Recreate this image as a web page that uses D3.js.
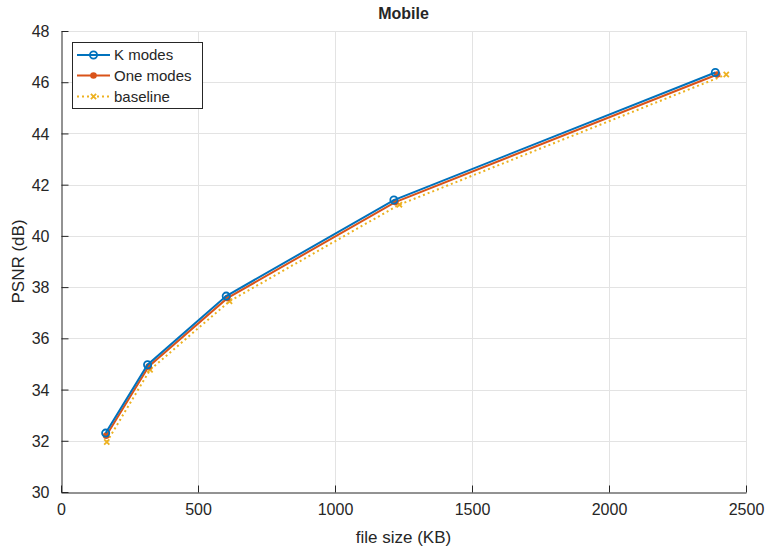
<!DOCTYPE html>
<html>
<head>
<meta charset="utf-8">
<script src="https://cdn.jsdelivr.net/npm/d3@7"></script>
<style>
  body { margin: 0; background: #fff; }
  text { font-family: "Liberation Sans", Arial, sans-serif; fill: #262626; }
</style>
</head>
<body>
<div id="chart"></div>
<script>
// data
const seriesNames = ["K modes", "One modes", "baseline"];
const kModesSize = [163, 316, 603, 1215, 2388];
const kModesPsnr = [32.3, 34.97, 37.65, 41.4, 46.38];
const oneModesSize = [165, 320, 607, 1220, 2395];
const oneModesPsnr = [32.2, 34.9, 37.57, 41.32, 46.3];
const baselineSize = [167, 325, 615, 1235, 2428];
const baselinePsnr = [31.95, 34.77, 37.45, 41.22, 46.3];
const xTicks = [0, 500, 1000, 1500, 2000, 2500];
const yTicks = [30, 32, 34, 36, 38, 40, 42, 44, 46, 48];

const width = 767, height = 550;
const margin = {left: 61, right: 21, top: 31, bottom: 58};
const colors = ["#0072BD", "#D95319", "#EDB120"];

let svg = d3.select("#chart").append("svg").attr("width", width).attr("height", height);

let x = d3.scaleLinear().domain([0, 2500]).range([margin.left, width - margin.right]);
let y = d3.scaleLinear().domain([30, 48]).range([height - margin.bottom, margin.top]);

// grid
let grid = svg.append("g").attr("stroke", "#e3e3e3").attr("stroke-width", 1);
grid.selectAll(".gx").data(xTicks.slice(1)).enter().append("line")
    .attr("x1", d => Math.round(x(d)) + 0.5).attr("x2", d => Math.round(x(d)) + 0.5)
    .attr("y1", y(30)).attr("y2", y(48));
grid.selectAll(".gy").data(yTicks.slice(1)).enter().append("line")
    .attr("y1", d => Math.round(y(d)) + 0.5).attr("y2", d => Math.round(y(d)) + 0.5)
    .attr("x1", x(0)).attr("x2", x(2500));

// axes with inward ticks
let xAxis = svg.append("g").attr("transform", "translate(0," + (Math.round(y(30)) + 0.5) + ")")
    .call(d3.axisBottom(x).tickValues(xTicks).tickFormat(d3.format("d"))
        .tickSizeInner(-7).tickSizeOuter(0).tickPadding(11));
let yAxis = svg.append("g").attr("transform", "translate(" + (Math.round(x(0)) + 0.5) + ",0)")
    .call(d3.axisLeft(y).tickValues(yTicks).tickFormat(d3.format("d"))
        .tickSizeInner(-7).tickSizeOuter(0).tickPadding(12));
for (let ax of [xAxis, yAxis]) {
    ax.select(".domain").attr("stroke", "#262626");
    ax.selectAll(".tick line").attr("stroke", "#262626");
    ax.selectAll(".tick text").style("font-size", "16px").attr("fill", "#262626");
}
yAxis.selectAll(".tick text").attr("dy", "0.35em");

// labels
svg.append("text").attr("x", x(1250)).attr("y", 19).attr("text-anchor", "middle")
    .style("font-size", "16px").style("font-weight", "bold").text("Mobile");
svg.append("text").attr("x", x(1250)).attr("y", 543).attr("text-anchor", "middle")
    .style("font-size", "17px").text("file size (KB)");
svg.append("text").attr("transform", "translate(24," + y(39) + ") rotate(-90)")
    .attr("text-anchor", "middle").style("font-size", "17px").text("PSNR (dB)");

// series
let series = [
    {xs: kModesSize, ys: kModesPsnr},
    {xs: oneModesSize, ys: oneModesPsnr},
    {xs: baselineSize, ys: baselinePsnr}
];
let line = d3.line().x(d => x(d[0])).y(d => y(d[1]));

function drawMarker(g, i, cx, cy) {
    if (i === 0) {
        g.append("circle").attr("cx", cx).attr("cy", cy).attr("r", 3.6)
            .attr("fill", "none").attr("stroke", colors[0]).attr("stroke-width", 1.8);
    } else if (i === 1) {
        g.append("circle").attr("cx", cx).attr("cy", cy).attr("r", 3.3).attr("fill", colors[1]);
    } else {
        let s = 2.6;
        g.append("path").attr("d", `M${cx-s},${cy-s}L${cx+s},${cy+s}M${cx-s},${cy+s}L${cx+s},${cy-s}`)
            .attr("stroke", colors[2]).attr("stroke-width", 1.8).attr("fill", "none");
    }
}

let plot = svg.append("g");
for (let i = 2; i >= 0; i--) {
    let pts = series[i].xs.map((v, j) => [v, series[i].ys[j]]);
    let g = plot.append("g");
    g.append("path").datum(pts).attr("d", line).attr("fill", "none")
        .attr("stroke", colors[i]).attr("stroke-width", 2)
        .attr("stroke-dasharray", i === 2 ? "2,3" : null);
    for (let p of pts) drawMarker(g, i, x(p[0]), y(p[1]));
}

// legend
let lg = svg.append("g");
lg.append("rect").attr("x", 72.5).attr("y", 42.5).attr("width", 130).attr("height", 66)
    .attr("fill", "#fff").attr("stroke", "#262626").attr("stroke-width", 1);
let rowY = [55, 75.5, 96.5];
seriesNames.forEach((name, i) => {
    lg.append("line").attr("x1", 77).attr("x2", 110).attr("y1", rowY[i]).attr("y2", rowY[i])
        .attr("stroke", colors[i]).attr("stroke-width", 2)
        .attr("stroke-dasharray", i === 2 ? "2,3" : null);
    drawMarker(lg, i, 93.5, rowY[i]);
    lg.append("text").attr("x", 114).attr("y", rowY[i]).attr("dy", "0.35em")
        .style("font-size", "15px").text(name);
});
</script>
</body>
</html>
